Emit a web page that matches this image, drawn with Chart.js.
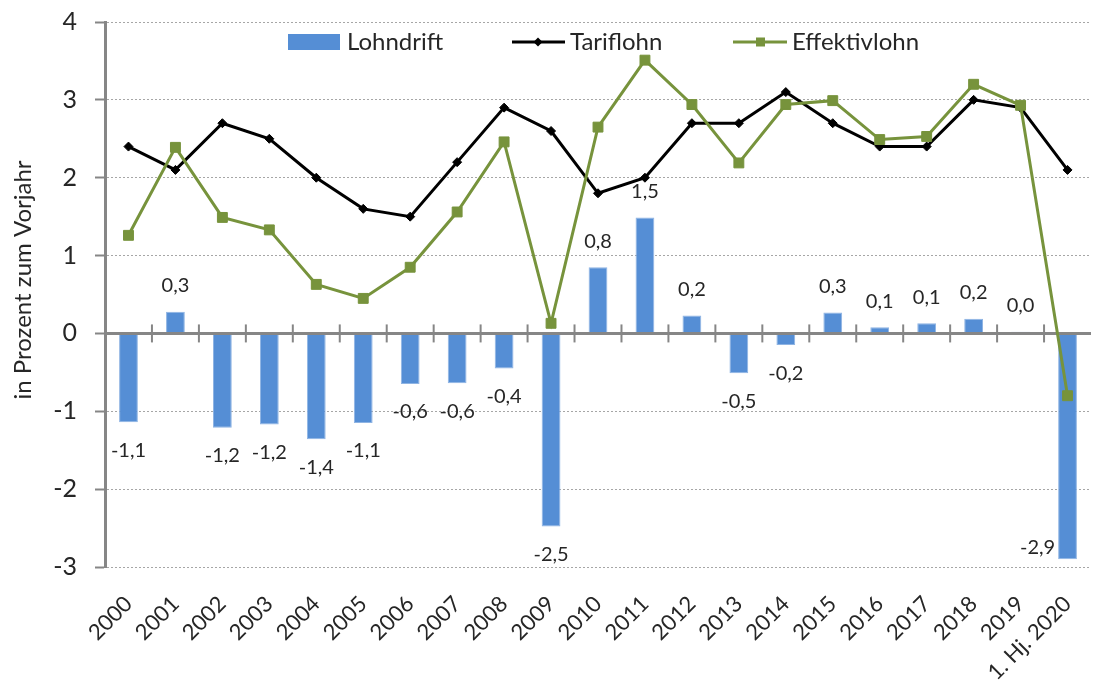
<!DOCTYPE html>
<html><head><meta charset="utf-8">
<script src="https://cdn.jsdelivr.net/npm/chart.js@4"></script>
<style>html,body{margin:0;padding:0;background:#fff}#wrap{width:1099px;height:688px}</style>
</head><body><div id="wrap"><canvas id="c" width="1099" height="688"></canvas></div>
<script>
const categories = ['2000','2001','2002','2003','2004','2005','2006','2007','2008','2009','2010','2011','2012','2013','2014','2015','2016','2017','2018','2019','1. Hj. 2020'];
const lohndrift = [-1.14,0.28,-1.21,-1.17,-1.36,-1.15,-0.65,-0.64,-0.45,-2.48,0.85,1.49,0.23,-0.51,-0.15,0.27,0.08,0.13,0.19,0.02,-2.90];
const lohndriftLabels = ['-1,1','0,3','-1,2','-1,2','-1,4','-1,1','-0,6','-0,6','-0,4','-2,5','0,8','1,5','0,2','-0,5','-0,2','0,3','0,1','0,1','0,2','0,0','-2,9'];
const tariflohn = [2.4,2.1,2.7,2.5,2.0,1.6,1.5,2.2,2.9,2.6,1.8,2.0,2.7,2.7,3.1,2.7,2.4,2.4,3.0,2.9,2.1];
const effektivlohn = [1.26,2.39,1.49,1.33,0.63,0.45,0.85,1.56,2.46,0.13,2.65,3.51,2.94,2.19,2.94,2.99,2.49,2.53,3.20,2.93,-0.80];
const yMin = -3, yMax = 4, yStep = 1;
const seriesNames = ['Lohndrift','Tariflohn','Effektivlohn'];
const axisTitle = 'in Prozent zum Vorjahr';

const FONT = 'Lato, "Open Sans", sans-serif';
const TXT = '#262626';
const AXIS = '#868686';

const helpers = {
  afterBars: {
    id: 'axisZero',
    afterDatasetDraw(chart, args) {
      if (args.index !== 0) return;
      const ctx = chart.ctx, x = chart.scales.x, y = chart.scales.y;
      const y0 = y.getPixelForValue(0);
      ctx.save();
      ctx.strokeStyle = AXIS;
      ctx.lineWidth = 3;
      ctx.beginPath();
      ctx.moveTo(chart.chartArea.left, y0);
      ctx.lineTo(chart.chartArea.right, y0);
      ctx.stroke();
      ctx.lineWidth = 2;
      const n = chart.data.labels.length;
      for (let i = 1; i < n; i++) {
        const px = (x.getPixelForValue(i - 1) + x.getPixelForValue(i)) / 2;
        ctx.beginPath();
        ctx.moveTo(px, y0 - 9);
        ctx.lineTo(px, y0 + 9);
        ctx.stroke();
      }
      ctx.restore();
    }
  },
  labels: {
    id: 'barLabels',
    afterDatasetsDraw(chart) {
      const ctx = chart.ctx;
      const meta = chart.getDatasetMeta(0);
      const ds = chart.data.datasets[0];
      ctx.save();
      ctx.font = '20px ' + FONT;
      ctx.fillStyle = TXT;
      ctx.textBaseline = 'middle';
      meta.data.forEach((bar, i) => {
        const v = ds.data[i];
        const txt = lohndriftLabels[i];
        if (i === meta.data.length - 1) {
          ctx.textAlign = 'right';
          ctx.fillText(txt, bar.x - bar.width / 2 - 3, bar.y - 12);
        } else {
          ctx.textAlign = 'center';
          ctx.fillText(txt, bar.x, v >= 0 ? bar.y - 26 : bar.y + 28);
        }
      });
      ctx.restore();
    }
  },
  legend: {
    id: 'customLegend',
    afterDraw(chart) {
      const ctx = chart.ctx;
      const dss = chart.data.datasets;
      const ly = 42;
      ctx.save();
      ctx.font = '24px ' + FONT;
      ctx.fillStyle = TXT;
      ctx.textBaseline = 'middle';
      ctx.textAlign = 'left';
      // Lohndrift
      ctx.fillStyle = dss[0].backgroundColor;
      ctx.fillRect(288, 34, 52, 16);
      ctx.fillStyle = TXT;
      ctx.fillText(dss[0].label, 347, ly);
      // Tariflohn
      ctx.strokeStyle = dss[1].borderColor; ctx.lineWidth = 3;
      ctx.beginPath(); ctx.moveTo(512, ly); ctx.lineTo(565, ly); ctx.stroke();
      ctx.fillStyle = dss[1].borderColor;
      ctx.beginPath(); ctx.moveTo(538, ly - 4.5); ctx.lineTo(542.5, ly); ctx.lineTo(538, ly + 4.5); ctx.lineTo(533.5, ly); ctx.closePath(); ctx.fill();
      ctx.fillStyle = TXT;
      ctx.fillText(dss[1].label, 570, ly);
      // Effektivlohn
      ctx.strokeStyle = dss[2].borderColor;
      ctx.beginPath(); ctx.moveTo(733, ly); ctx.lineTo(787, ly); ctx.stroke();
      ctx.fillStyle = dss[2].borderColor;
      ctx.fillRect(756, ly - 4.5, 9, 9);
      ctx.fillStyle = TXT;
      ctx.fillText(dss[2].label, 792, ly);
      // axis title
      ctx.translate(23, 280);
      ctx.rotate(-Math.PI / 2);
      ctx.textAlign = 'center';
      ctx.font = '24px ' + FONT;
      ctx.fillText(axisTitle, 0, 0);
      ctx.restore();
    }
  }
};

new Chart(document.getElementById('c'), {
  data: {
    labels: categories,
    datasets: [
      { type: 'bar', label: seriesNames[0], data: lohndrift, backgroundColor: '#558ED5', borderColor: '#8FB4E3', borderWidth: 1,
        barPercentage: 0.4, categoryPercentage: 1, order: 2 },
      { type: 'line', label: seriesNames[1], data: tariflohn, borderColor: '#000000', backgroundColor: '#000000', borderWidth: 3,
        pointStyle: 'rectRot', pointRadius: 4.5, pointBorderWidth: 1, tension: 0, order: 1 },
      { type: 'line', label: seriesNames[2], data: effektivlohn, borderColor: '#77933C', backgroundColor: '#77933C', borderWidth: 3,
        pointStyle: 'rect', pointRadius: 7, pointBorderWidth: 1, tension: 0, order: 0 }
    ]
  },
  options: {
    responsive: false,
    animation: false,
    devicePixelRatio: 1,
    layout: { padding: { top: 22, right: -2, left: 0, bottom: 0 } },
    plugins: { legend: { display: false }, tooltip: { enabled: false } },
    scales: {
      x: {
        type: 'category',
        offset: true,
        grid: { display: false, drawTicks: false },
        border: { display: false },
        ticks: { color: TXT, font: { family: FONT, size: 22 }, minRotation: 45, maxRotation: 45, padding: 24, autoSkip: false },
        afterFit(s) { s.height = 121; s.paddingLeft = 0; s.paddingRight = 0; }
      },
      y: {
        min: yMin, max: yMax,
        grid: { color: '#A6A6A6', lineWidth: 1, tickColor: AXIS, tickWidth: 2, tickLength: 10, tickBorderDash: [] },
        border: { display: true, color: AXIS, width: 3, dash: [2, 2] },
        ticks: { stepSize: yStep, color: TXT, font: { family: FONT, size: 25 }, padding: 18, callback: v => String(v) },
        afterFit(s) { s.width = 105; s.paddingTop = 0; s.paddingBottom = 0; }
      }
    }
  },
  plugins: [helpers.afterBars, helpers.labels, helpers.legend]
});
</script></body></html>
